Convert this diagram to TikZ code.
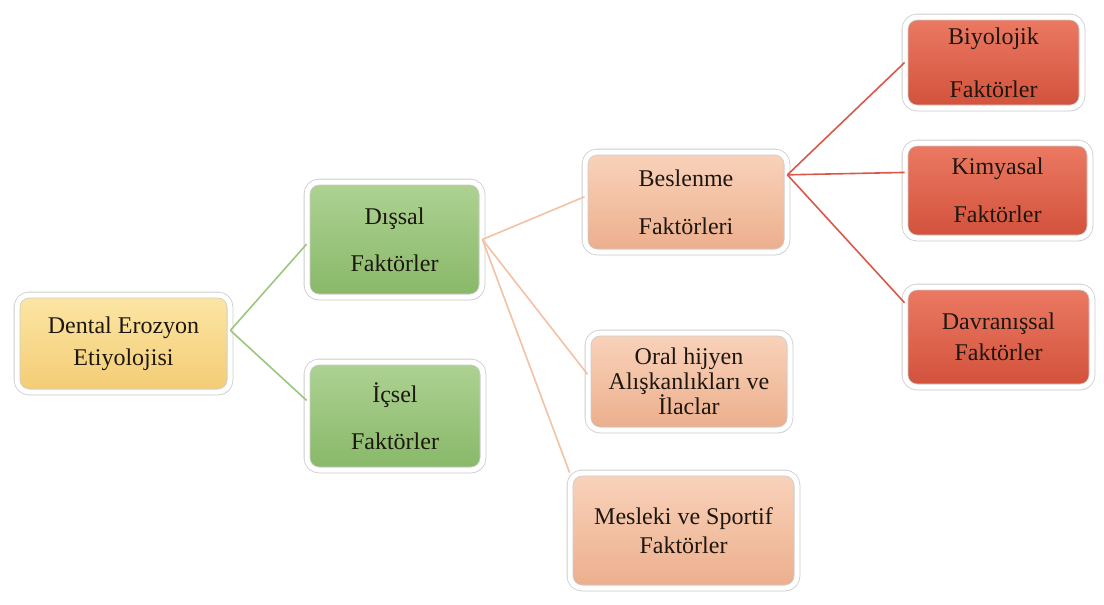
\documentclass[tikz,border=0pt]{standalone}
\usepackage{fontspec}
\setmainfont{Liberation Serif}
\usetikzlibrary{shadows}
\definecolor{txt}{HTML}{1E1710}
\definecolor{yelT}{HTML}{FCE6A4}\definecolor{yelB}{HTML}{F3CC74}
\definecolor{grnT}{HTML}{AED293}\definecolor{grnB}{HTML}{88B868}
\definecolor{pchT}{HTML}{F9D3BB}\definecolor{pchB}{HTML}{ECAE8C}
\definecolor{redT}{HTML}{EC7A63}\definecolor{redB}{HTML}{D2513B}
\definecolor{lgrn}{HTML}{9CC67E}\definecolor{lpch}{HTML}{F3C1A3}\definecolor{lred}{HTML}{D9584A}
\tikzset{
  boxbase/.style={rounded corners=12pt, draw=black!20, double=white, double distance=5pt, line width=0.8pt,
    align=center, inner sep=2pt,
    text=txt, font=\fontsize{24}{26}\selectfont,
    drop shadow={opacity=0.3, shadow xshift=1.5pt, shadow yshift=-3pt}},
  ybox/.style={boxbase, top color=yelT, bottom color=yelB},
  gbox/.style={boxbase, top color=grnT, bottom color=grnB},
  pbox/.style={boxbase, top color=pchT, bottom color=pchB},
  rbox/.style={boxbase, top color=redT, bottom color=redB},
  gline/.style={draw=lgrn, line width=1.6pt},
  pline/.style={draw=lpch, line width=1.6pt},
  rline/.style={draw=lred, line width=1.6pt},
}
\begin{document}
\begin{tikzpicture}[x=1pt,y=-1pt]
\useasboundingbox (0,0) rectangle (1104,605);
\node[ybox, minimum width=213pt, minimum height=97pt] (root) at (123.5,343.5) {Dental Erozyon\\[6pt]Etiyolojisi};
\node[gbox, minimum width=175pt, minimum height=115pt] (dis) at (394.5,239.5) {Dışsal\\[21pt]Faktörler};
\node[gbox, minimum width=176pt, minimum height=108pt] (ic) at (395,416) {İçsel\\[21pt]Faktörler};
\node[pbox, minimum width=202pt, minimum height=100pt] (bes) at (686,202) {Beslenme\\[22pt]Faktörleri};
\node[pbox, minimum width=202pt, minimum height=97pt] (oral) at (689,381.5) {Oral hijyen\\[-1pt]Alışkanlıkları ve\\[-1pt]İlaclar};
\node[pbox, minimum width=227pt, minimum height=115pt] (mes) at (683.5,530.5) {Mesleki ve Sportif\\[3pt]Faktörler};
\node[rbox, minimum width=177pt, minimum height=91pt] (biy) at (993.5,62.5) {Biyolojik\\[27pt]Faktörler};
\node[rbox, minimum width=185pt, minimum height=95pt] (kim) at (997.5,190.5) {Kimyasal\\[22pt]Faktörler};
\node[rbox, minimum width=187pt, minimum height=100pt] (dav) at (998.5,337) {Davranışsal\\[5pt]Faktörler};
\draw[gline] (root.7) -- (dis.183);
\draw[gline] (root.7) -- (ic.170);
\draw[pline] (dis.east) -- (bes.177);
\draw[pline] (dis.east) -- (oral.176);
\draw[pline] (dis.east) -- (mes.north west);
\draw[rline] (bes.15) -- (biy.west);
\draw[rline] (bes.15) -- (kim.169);
\draw[rline] (bes.15) -- (dav.160);
\end{tikzpicture}
\end{document}
